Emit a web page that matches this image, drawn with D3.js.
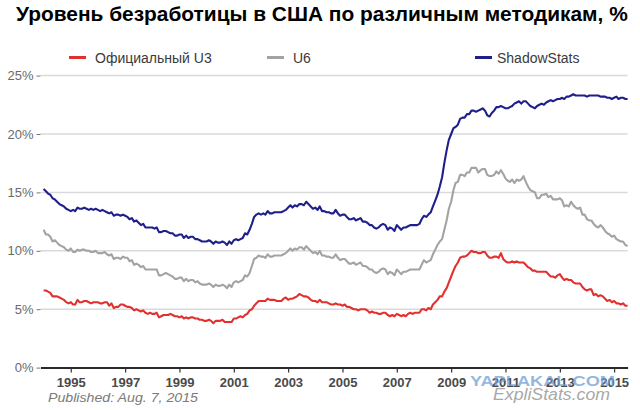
<!DOCTYPE html>
<html><head><meta charset="utf-8">
<script src="https://cdn.jsdelivr.net/npm/d3@7"></script>
<style>body{margin:0;background:#fff} svg{display:block;font-family:Arial,"Liberation Sans",sans-serif}</style>
</head><body><svg id="c" width="640" height="410"></svg>
<script>
const titleText = "Уровень безработицы в США по различным методикам, %";
const seriesNames = ["Официальный U3", "U6", "ShadowStats"];
const seriesColors = ["#e2302f", "#a3a3a3", "#1f1f8c"];
const yTickValues = [0, 5, 10, 15, 20, 25];
const xTickYears = [1995, 1997, 1999, 2001, 2003, 2005, 2007, 2009, 2011, 2013, 2015];
const publishedText = "Published: Aug. 7, 2015";
const firstYear = 1994; // monthly values from Jan 1994 to Jul 2015

const u3 = [
 6.6,6.6,6.5,6.4,6.1,6.1,6.1,6.0,5.9,5.8,5.6,5.5,
 5.6,5.4,5.4,5.8,5.6,5.6,5.7,5.7,5.6,5.5,5.6,5.6,
 5.6,5.5,5.5,5.6,5.6,5.3,5.5,5.1,5.2,5.2,5.4,5.4,
 5.3,5.2,5.2,5.1,4.9,5.0,4.9,4.8,4.9,4.7,4.6,4.7,
 4.6,4.6,4.7,4.3,4.4,4.5,4.5,4.5,4.6,4.5,4.4,4.4,
 4.3,4.4,4.2,4.3,4.2,4.3,4.3,4.2,4.2,4.1,4.1,4.0,
 4.0,4.1,4.0,3.8,4.0,4.0,4.0,4.1,3.9,3.9,3.9,3.9,
 4.2,4.2,4.3,4.4,4.3,4.5,4.6,4.9,5.0,5.3,5.5,5.7,
 5.7,5.7,5.7,5.9,5.8,5.8,5.8,5.7,5.7,5.7,5.9,6.0,
 5.8,5.9,5.9,6.0,6.1,6.3,6.2,6.1,6.1,6.0,5.8,5.7,
 5.7,5.6,5.8,5.6,5.6,5.6,5.5,5.4,5.4,5.5,5.4,5.4,
 5.3,5.4,5.2,5.2,5.1,5.0,5.0,4.9,5.0,5.0,5.0,4.9,
 4.7,4.8,4.7,4.7,4.6,4.6,4.7,4.7,4.5,4.4,4.5,4.4,
 4.6,4.5,4.4,4.5,4.4,4.6,4.7,4.6,4.7,4.7,4.7,5.0,
 5.0,4.9,5.1,5.0,5.4,5.6,5.8,6.1,6.1,6.5,6.8,7.3,
 7.8,8.3,8.7,9.0,9.4,9.5,9.5,9.6,9.8,10.0,9.9,9.9,
 9.8,9.8,9.9,9.9,9.6,9.4,9.4,9.5,9.5,9.4,9.8,9.3,
 9.1,9.0,9.0,9.1,9.0,9.1,9.0,9.0,9.0,8.8,8.6,8.5,
 8.3,8.3,8.2,8.2,8.2,8.2,8.2,8.0,7.8,7.8,7.7,7.9,
 8.0,7.7,7.5,7.6,7.5,7.5,7.3,7.2,7.2,7.2,6.9,6.7,
 6.6,6.7,6.7,6.2,6.3,6.1,6.2,6.1,5.9,5.7,5.8,5.6,
 5.7,5.5,5.5,5.4,5.5,5.3,5.3
];

const u6 = [
 11.8,11.4,11.4,11.2,10.8,10.9,10.7,10.5,10.4,10.3,10.1,10.0,
 10.2,9.9,9.9,10.1,10.0,10.1,10.1,10.0,10.0,9.9,9.9,10.0,
 9.8,9.8,9.8,9.9,9.7,9.6,9.7,9.3,9.4,9.4,9.3,9.5,
 9.4,9.4,9.1,9.2,8.8,8.9,8.8,8.6,8.7,8.4,8.4,8.4,
 8.4,8.4,8.4,7.9,7.9,8.0,8.1,8.0,7.9,7.8,7.6,7.6,
 7.7,7.7,7.4,7.6,7.4,7.5,7.5,7.3,7.4,7.2,7.1,7.1,
 7.1,7.2,7.1,6.9,7.1,7.0,7.0,7.1,7.0,6.8,7.1,6.9,
 7.3,7.4,7.3,7.4,7.5,7.9,7.8,8.1,8.7,9.3,9.4,9.6,
 9.5,9.5,9.4,9.7,9.5,9.5,9.6,9.6,9.6,9.6,9.7,9.8,
 10.0,10.2,10.0,10.2,10.1,10.3,10.3,10.1,10.4,10.2,10.0,9.8,
 9.9,9.7,10.0,9.6,9.6,9.5,9.5,9.4,9.4,9.7,9.4,9.2,
 9.3,9.3,9.1,8.9,8.9,9.0,8.8,8.9,9.0,8.7,8.7,8.6,
 8.4,8.4,8.2,8.1,8.2,8.4,8.5,8.4,8.0,8.2,8.1,7.9,
 8.4,8.2,8.0,8.2,8.2,8.3,8.4,8.4,8.4,8.4,8.4,8.8,
 9.2,9.0,9.1,9.2,9.7,10.1,10.5,10.8,11.0,11.8,12.6,13.6,
 14.2,15.2,15.8,15.9,16.5,16.5,16.4,16.7,16.7,17.1,17.1,17.1,
 16.7,16.9,17.0,17.0,16.5,16.4,16.4,16.5,16.8,16.6,16.9,16.6,
 16.2,16.0,15.9,16.1,15.8,16.1,16.0,16.1,16.4,15.9,15.5,15.2,
 15.1,15.0,14.5,14.5,14.8,14.8,14.9,14.6,14.7,14.4,14.4,14.4,
 14.5,14.3,13.8,13.9,13.8,14.2,13.9,13.7,13.6,13.7,13.1,13.1,
 12.7,12.6,12.6,12.3,12.1,12.0,12.2,12.0,11.7,11.5,11.4,11.2,
 11.3,11.0,10.9,10.8,10.8,10.5,10.4
];

const shadow = [
 15.3,15.1,14.9,14.8,14.5,14.4,14.2,14.0,13.9,13.8,13.6,13.5,
 13.4,13.5,13.4,13.7,13.6,13.6,13.7,13.6,13.5,13.6,13.5,13.6,
 13.5,13.4,13.5,13.4,13.3,13.2,13.3,13.0,13.1,13.1,13.0,13.1,
 13.0,12.9,12.7,12.8,12.5,12.6,12.4,12.2,12.3,12.0,12.0,12.0,
 12.0,11.9,12.0,11.6,11.6,11.7,11.7,11.6,11.5,11.5,11.3,11.3,
 11.4,11.4,11.1,11.3,11.1,11.2,11.2,11.0,11.0,10.9,10.8,10.8,
 10.8,10.9,10.8,10.6,10.8,10.7,10.7,10.8,10.7,10.5,10.8,10.6,
 10.9,11.0,10.9,11.0,11.1,11.5,11.4,11.8,12.3,12.9,13.1,13.2,
 13.1,13.2,13.1,13.4,13.2,13.2,13.3,13.3,13.3,13.3,13.4,13.5,
 13.7,13.9,13.7,13.9,13.8,14.0,14.0,13.9,14.2,14.0,13.8,13.6,
 13.7,13.5,13.8,13.4,13.4,13.3,13.3,13.2,13.2,13.5,13.2,13.0,
 13.1,13.1,12.9,12.7,12.7,12.8,12.6,12.7,12.8,12.5,12.5,12.4,
 12.2,12.2,12.0,11.9,12.0,12.2,12.3,12.2,11.8,12.0,11.9,11.7,
 12.2,12.0,11.8,12.0,12.0,12.1,12.2,12.2,12.2,12.2,12.3,12.7,
 13.0,12.9,13.1,13.3,13.8,14.3,14.8,15.5,16.3,17.5,18.6,19.5,
 20.0,20.5,20.6,20.8,21.3,21.4,21.4,21.7,21.7,22.0,22.0,21.9,
 22.0,22.1,22.2,22.0,21.6,21.5,21.8,22.0,22.3,22.3,22.4,22.3,
 22.2,22.2,22.3,22.4,22.6,22.7,22.8,22.6,22.8,22.8,22.6,22.4,
 22.3,22.2,22.4,22.5,22.6,22.5,22.7,22.8,22.9,22.8,22.9,23.0,
 23.0,23.1,23.0,23.2,23.2,23.3,23.4,23.3,23.3,23.3,23.3,23.3,
 23.2,23.3,23.3,23.3,23.3,23.3,23.2,23.2,23.2,23.1,23.1,23.0,
 23.1,23.2,23.0,23.1,23.1,23.0,23.0
];

const allSeries = [u3, u6, shadow];
const svg = d3.select("#c");

const x = d3.scaleTime()
  .domain([new Date(1993, 10, 20), new Date(2015, 6, 1)])
  .range([40.5, 627.6]);
const y = d3.scaleLinear().domain([0, 25]).range([367.6, 75.6]);

// Title (fit to width)
const t = svg.append("text").attr("x", 16).attr("y", 21)
  .attr("font-weight", "bold").attr("font-size", 18).attr("fill", "#000")
  .text(titleText);
const tw = t.node().getComputedTextLength();
t.attr("font-size", 18 * 612 / tw);

// Grid lines
svg.append("g").selectAll("line").data(yTickValues.filter(v => v > 0)).join("line")
  .attr("x1", 40.5).attr("x2", 627.6)
  .attr("y1", d => y(d)).attr("y2", d => y(d))
  .attr("stroke", "#dadada").attr("stroke-width", 1.5);

// Y axis
const yAxis = svg.append("g").attr("transform", "translate(40.5,0)")
  .call(d3.axisLeft(y).tickValues(yTickValues).tickFormat(d => d + "%").tickSize(4).tickPadding(3));
yAxis.select(".domain").remove();
yAxis.selectAll(".tick line").attr("stroke", "#777");
yAxis.selectAll(".tick text").attr("font-size", 13).attr("fill", "#6a6a6a")
  .attr("font-family", "Arial, 'Liberation Sans', sans-serif");

// X axis
const xAxis = svg.append("g").attr("transform", `translate(0,${y(0)})`)
  .call(d3.axisBottom(x).tickValues(xTickYears.map(yy => new Date(yy, 0, 1)))
    .tickFormat(d3.timeFormat("%Y")).tickSize(5).tickSizeOuter(0).tickPadding(5));
xAxis.select(".domain").attr("stroke", "#2a2a2a").attr("stroke-width", 2);
xAxis.selectAll(".tick line").attr("stroke", "#333").attr("stroke-width", 1.2);
xAxis.selectAll(".tick text").attr("font-size", 13).attr("font-weight", "bold")
  .attr("fill", "#4a4a4a").attr("font-family", "Arial, 'Liberation Sans', sans-serif");

// Lines
const line = d3.line()
  .x((d, i) => x(new Date(firstYear, i, 1)))
  .y(d => y(d));
svg.append("g").selectAll("path").data(allSeries).join("path")
  .attr("d", d => line(d))
  .attr("fill", "none")
  .attr("stroke", (d, i) => seriesColors[i])
  .attr("stroke-width", 2.1)
  .attr("stroke-linejoin", "round");

// Legend
const legendX = [69, 267, 475];
const lg = svg.append("g").selectAll("g").data(seriesNames).join("g")
  .attr("transform", (d, i) => `translate(${legendX[i]},57.5)`);
lg.append("line").attr("x1", 0).attr("x2", 17).attr("y1", 0).attr("y2", 0)
  .attr("stroke", (d, i) => seriesColors[i]).attr("stroke-width", 3);
lg.append("text").attr("x", (d, i) => i === 2 ? 22 : 26).attr("y", 5.5)
  .attr("font-size", 14).attr("fill", "#3a3a3a").text(d => d);

// Footer texts
svg.append("text").attr("x", 48).attr("y", 402).attr("font-size", 13)
  .attr("font-style", "italic").attr("fill", "#7a7a7a")
  .attr("textLength", 150).attr("lengthAdjust", "spacingAndGlyphs")
  .text(publishedText);
svg.append("text").attr("x", 470).attr("y", 386).attr("font-size", 14.5)
  .attr("font-weight", "bold").attr("fill", "#6f9fd6").attr("fill-opacity", 0.75)
  .attr("textLength", 145).attr("lengthAdjust", "spacingAndGlyphs")
  .text("YAPLAKAL.COM");
svg.append("text").attr("x", 493).attr("y", 400).attr("font-size", 16)
  .attr("font-style", "italic").attr("fill", "#a8a8a8")
  .attr("textLength", 117).attr("lengthAdjust", "spacingAndGlyphs")
  .text("ExpliStats.com");
</script></body></html>
